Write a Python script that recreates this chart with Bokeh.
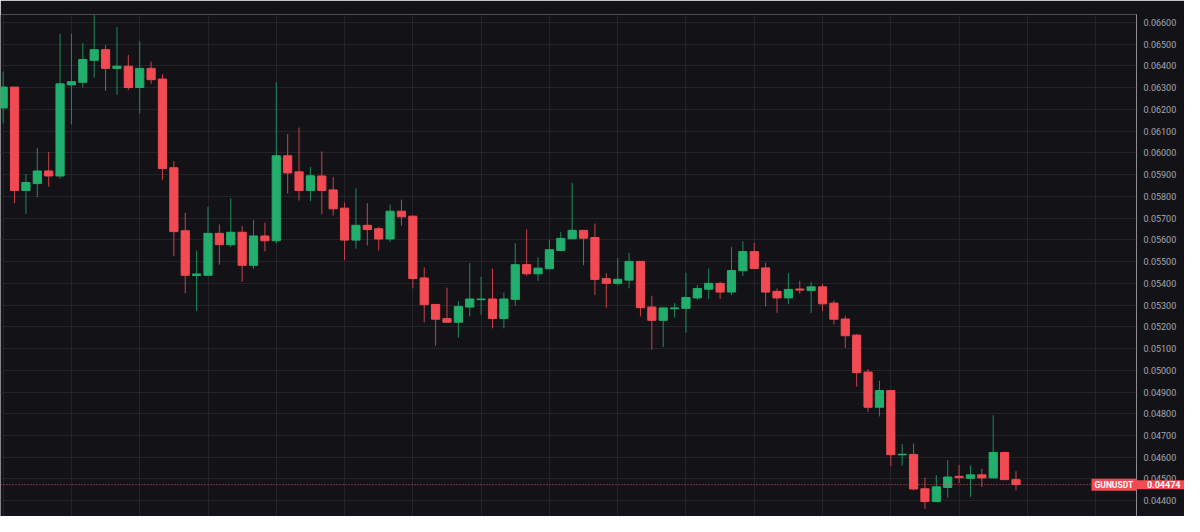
from bokeh.plotting import figure
from bokeh.models import ColumnDataSource, Range1d, FixedTicker, PrintfTickFormatter, Span, Label
from bokeh.embed import file_html
from bokeh.resources import INLINE

symbol = "GUNUSDT"

open_ = [0.06207, 0.06303, 0.05827, 0.05859, 0.05917, 0.05894, 0.06313, 0.06325, 0.06426, 0.06475,
         0.06389, 0.06399, 0.06301, 0.06389, 0.06340, 0.05932, 0.05642, 0.05436, 0.05437, 0.05630,
         0.05578, 0.05635, 0.05483, 0.05618, 0.05596, 0.05987, 0.05913, 0.05827, 0.05894, 0.05830,
         0.05746, 0.05599, 0.05667, 0.05651, 0.05604, 0.05732, 0.05709, 0.05425, 0.05303, 0.05238,
         0.05221, 0.05291, 0.05325, 0.05328, 0.05238, 0.05326, 0.05486, 0.05444, 0.05467, 0.05551,
         0.05605, 0.05644, 0.05611, 0.05422, 0.05400, 0.05415, 0.05501, 0.05291, 0.05230, 0.05283,
         0.05285, 0.05333, 0.05373, 0.05400, 0.05360, 0.05458, 0.05546, 0.05471, 0.05363, 0.05333,
         0.05374, 0.05367, 0.05384, 0.05309, 0.05236, 0.05162, 0.04992, 0.04830, 0.04907, 0.04611,
         0.04613, 0.04455, 0.04396, 0.04461, 0.04512, 0.04503, 0.04519, 0.04505, 0.04622, 0.04497]

high = [0.06374, 0.06303, 0.05903, 0.06023, 0.06005, 0.06548, 0.06548, 0.06505, 0.06634, 0.06496,
        0.06578, 0.06451, 0.06513, 0.06420, 0.06362, 0.05962, 0.05724, 0.05551, 0.05752, 0.05671,
        0.05791, 0.05663, 0.05693, 0.05679, 0.06325, 0.06087, 0.06117, 0.05935, 0.06007, 0.05889,
        0.05772, 0.05837, 0.05769, 0.05660, 0.05763, 0.05785, 0.05712, 0.05474, 0.05303, 0.05380,
        0.05318, 0.05493, 0.05430, 0.05467, 0.05358, 0.05584, 0.05648, 0.05520, 0.05599, 0.05636,
        0.05861, 0.05644, 0.05675, 0.05447, 0.05516, 0.05541, 0.05501, 0.05343, 0.05287, 0.05309,
        0.05449, 0.05393, 0.05468, 0.05407, 0.05567, 0.05593, 0.05586, 0.05495, 0.05377, 0.05447,
        0.05412, 0.05407, 0.05397, 0.05321, 0.05251, 0.05166, 0.05006, 0.04952, 0.04907, 0.04661,
        0.04663, 0.04506, 0.04518, 0.04586, 0.04565, 0.04562, 0.04547, 0.04793, 0.04625, 0.04536]

low = [0.06136, 0.05769, 0.05720, 0.05797, 0.05845, 0.05882, 0.06131, 0.06301, 0.06347, 0.06286,
       0.06268, 0.06289, 0.06181, 0.06318, 0.05876, 0.05525, 0.05355, 0.05273, 0.05437, 0.05486,
       0.05567, 0.05407, 0.05467, 0.05547, 0.05583, 0.05813, 0.05781, 0.05778, 0.05717, 0.05712,
       0.05507, 0.05559, 0.05574, 0.05551, 0.05590, 0.05666, 0.05377, 0.05220, 0.05114, 0.05221,
       0.05150, 0.05248, 0.05256, 0.05193, 0.05193, 0.05297, 0.05435, 0.05412, 0.05467, 0.05551,
       0.05605, 0.05484, 0.05346, 0.05288, 0.05389, 0.05377, 0.05248, 0.05095, 0.05107, 0.05242,
       0.05173, 0.05324, 0.05328, 0.05328, 0.05345, 0.05434, 0.05468, 0.05294, 0.05264, 0.05305,
       0.05352, 0.05264, 0.05273, 0.05211, 0.05102, 0.04925, 0.04808, 0.04788, 0.04559, 0.04562,
       0.04448, 0.04362, 0.04396, 0.04414, 0.04482, 0.04418, 0.04463, 0.04505, 0.04497, 0.04448]

close = [0.06303, 0.05827, 0.05864, 0.05917, 0.05894, 0.06318, 0.06328, 0.06430, 0.06475, 0.06389,
         0.06399, 0.06301, 0.06389, 0.06337, 0.05928, 0.05638, 0.05437, 0.05443, 0.05630, 0.05578,
         0.05635, 0.05483, 0.05618, 0.05596, 0.05987, 0.05908, 0.05827, 0.05895, 0.05827, 0.05743,
         0.05599, 0.05667, 0.05648, 0.05604, 0.05732, 0.05706, 0.05422, 0.05302, 0.05235, 0.05221,
         0.05294, 0.05328, 0.05328, 0.05238, 0.05328, 0.05486, 0.05444, 0.05470, 0.05555, 0.05607,
         0.05644, 0.05608, 0.05418, 0.05400, 0.05419, 0.05501, 0.05288, 0.05230, 0.05287, 0.05287,
         0.05335, 0.05376, 0.05400, 0.05360, 0.05459, 0.05546, 0.05468, 0.05360, 0.05333, 0.05372,
         0.05369, 0.05384, 0.05306, 0.05235, 0.05159, 0.04989, 0.04830, 0.04907, 0.04612, 0.04614,
         0.04454, 0.04396, 0.04464, 0.04509, 0.04506, 0.04519, 0.04505, 0.04622, 0.04497, 0.04474]

price_ticks = [0.044, 0.045, 0.046, 0.047, 0.048, 0.049, 0.050, 0.051, 0.052, 0.053, 0.054, 0.055,
               0.056, 0.057, 0.058, 0.059, 0.060, 0.061, 0.062, 0.063, 0.064, 0.065, 0.066, 0.067]
time_grid = [0, 6, 12, 18, 24, 30, 36, 42, 48, 54, 60, 66, 72, 78, 84, 90, 96]

BG = "#131317"
GRID = "#232328"
GREEN = "#22ae6c"
RED = "#f24a52"
GREEN_W = "#1d8c58"
RED_W = "#c9404a"

idx = list(range(len(open_)))
up = [c >= o for o, c in zip(open_, close)]
src = ColumnDataSource(dict(
    x=idx, high=high, low=low,
    top=[max(o, c) for o, c in zip(open_, close)],
    bottom=[min(o, c) for o, c in zip(open_, close)],
    body=[GREEN if u else RED for u in up],
    wick=[GREEN_W if u else RED_W for u in up],
))

p = figure(width=1184, height=516, output_backend="svg", toolbar_location=None,
           x_range=Range1d(-0.234, 99.59), y_range=Range1d(0.043274, 0.066369),
           x_axis_location=None, y_axis_location="right",
           min_border_left=0, min_border_top=14, min_border_bottom=0, min_border_right=48,
           background_fill_color=BG, border_fill_color=BG, outline_line_color=None)

p.segment(x0="x", y0="high", x1="x", y1="low", line_color="wick", line_width=1, source=src)
p.vbar(x="x", width=0.72, top="top", bottom="bottom", fill_color="body", line_color="body",
       line_width=1, source=src)

p.yaxis.ticker = FixedTicker(ticks=price_ticks)
p.yaxis.formatter = PrintfTickFormatter(format="%.5f")
p.yaxis.major_tick_out = 0
p.yaxis.major_tick_in = 0
p.yaxis.minor_tick_out = 0
p.yaxis.minor_tick_in = 0
p.yaxis.major_label_standoff = 7
p.yaxis.major_label_text_font = "Roboto"
p.yaxis.major_label_text_font_size = "9px"
p.yaxis.major_label_text_color = "#a3a6ae"
p.yaxis.axis_line_color = "#8b8b90"

p.ygrid.grid_line_color = GRID
p.xgrid.ticker = FixedTicker(ticks=time_grid)
p.xgrid.grid_line_color = GRID

last = close[-1]
p.add_layout(Span(location=last, dimension="width", line_color=RED, line_dash="1 2", line_width=1))

sym_label = Label(x=97.60, y=last, text=symbol, text_align="center", text_baseline="middle",
                  text_color="white", text_font="Roboto", text_font_size="8.5px",
                  text_font_style="bold", background_fill_color=RED)
try:
    sym_label.padding = {"left": 3, "right": 3, "top": 1, "bottom": 1}
except Exception:
    sym_label.padding = 2
p.add_layout(sym_label)

# price tag drawn over the price scale; a side-panel label is not clipped to the frame
tag = Label(x=101.98, y=last, text="%.5f" % last, text_align="center", text_baseline="middle",
            text_color="white", text_font="Roboto", text_font_size="9px", text_font_style="bold",
            background_fill_color=RED)
try:
    tag.padding = {"left": 12, "right": 12, "top": 1, "bottom": 1}
except Exception:
    tag.padding = 2
p.add_layout(tag, "above")

open("out.html", "w").write(file_html(p, INLINE))
